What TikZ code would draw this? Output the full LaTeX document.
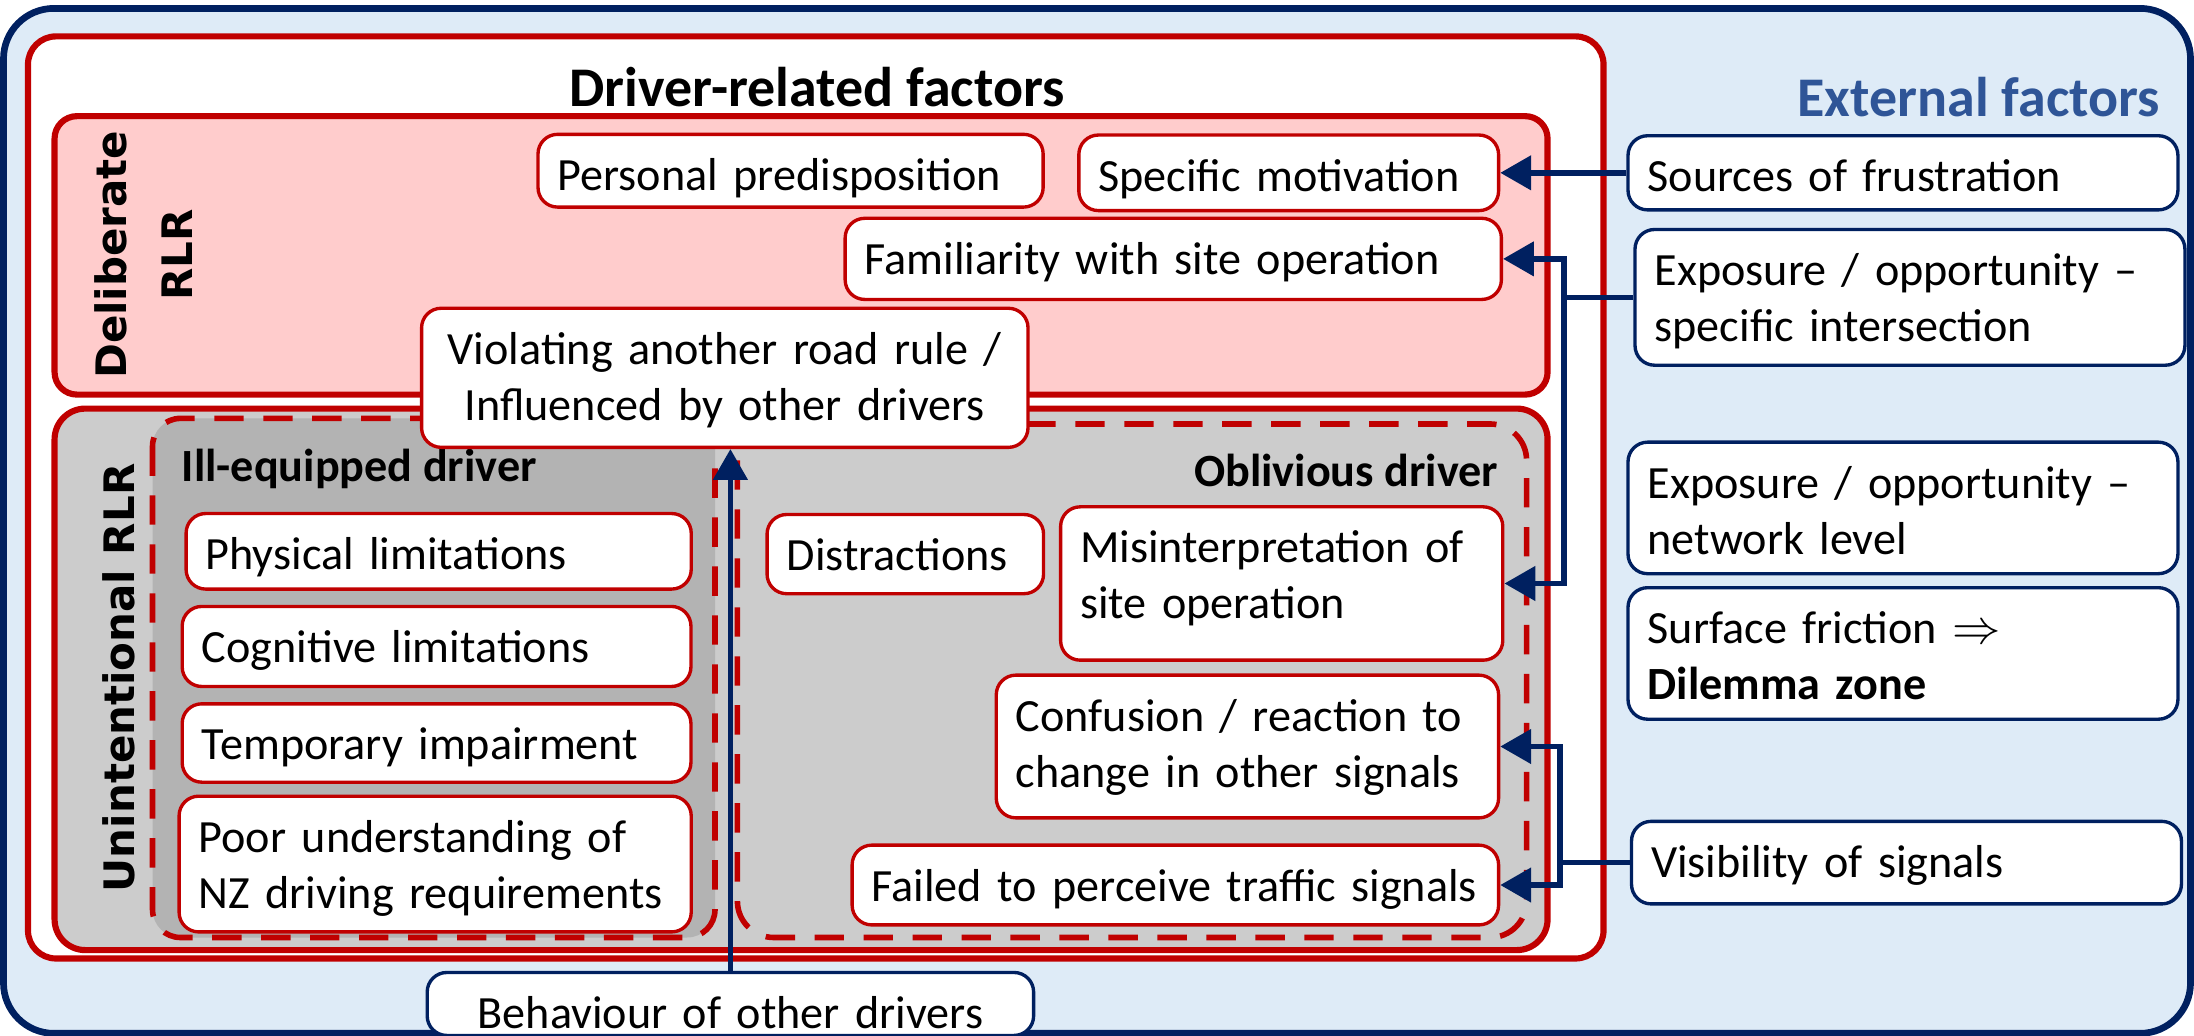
\documentclass[tikz,border=0pt]{standalone}
\usepackage{fontspec}
\setmainfont{Carlito}
\newfontfamily\rlrfont{DejaVu Sans}
\usetikzlibrary{arrows.meta}

\definecolor{rlrred}{HTML}{C00000}
\definecolor{navy}{HTML}{002060}
\definecolor{extfill}{HTML}{DEEBF7}
\definecolor{pinkfill}{HTML}{FFCCCC}
\definecolor{greyfill}{HTML}{CCCCCC}
\definecolor{darkgreyfill}{HTML}{B3B3B3}
\definecolor{extblue}{HTML}{2F5597}

\newcommand\itemsize{\fontsize{16.5}{20}\selectfont}
\newcommand\titlesize{\fontsize{20}{24}\selectfont}

\begin{document}
\begin{tikzpicture}[x=0.5pt, y=-0.5pt,
    factor/.style={draw=rlrred, line width=1.2pt, fill=white, rounded corners=7pt,
        inner xsep=7pt, inner ysep=0pt, text height=20pt, align=left, font=\itemsize},
    extfactor/.style={factor, draw=navy},
    link/.style={draw=navy, line width=2pt, -{Triangle[length=11pt,width=12pt]}},
    label/.style={inner sep=0pt}]
    \clip (0,0) rectangle (1568,740);

    % Draw the external factors area and the driver-related box
    \draw[navy, fill=extfill, line width=2.4pt, rounded corners=18pt] (2.5,6) rectangle (1565.5,738.5);
    \draw[rlrred, fill=white, line width=2.2pt, rounded corners=10pt] (20,26) rectangle (1146,685);

    % Draw the deliberate and unintentional boxes
    \draw[rlrred, fill=pinkfill, line width=2.2pt, rounded corners=8pt] (39,83) rectangle (1106,282);
    \draw[rlrred, fill=greyfill, line width=2.2pt, rounded corners=11pt] (39,292) rectangle (1106,679);
    \draw[rlrred, fill=darkgreyfill, line width=2pt, dash pattern=on 10.5pt off 7pt, rounded corners=10pt] (109,299) rectangle (511,670);
    \draw[rlrred, line width=2pt, dash pattern=on 10.5pt off 7pt, rounded corners=13pt] (527,303) rectangle (1091,670);

    % Titles
    \node[label, anchor=base, font=\titlesize\bfseries] (drvtitle) at (584,76) {Driver-related factors};
    \node[label, anchor=base east, font=\titlesize\bfseries, text=extblue] (exttitle) at (1544,83.5) {External factors};
    \node[label, anchor=base west, font=\itemsize\bfseries] (illtitle) at (129.5,344) {Ill-equipped driver};
    \node[label, anchor=base east, font=\itemsize\bfseries] (obltitle) at (1071,348) {Oblivious driver};
    \node[label, rotate=90, align=center, font=\rlrfont\bfseries\fontsize{15}{23.5}\selectfont] (delib) at (102.5,182) {Deliberate\\RLR};
    \node[label, rotate=90, anchor=base, font=\rlrfont\bfseries\fontsize{15}{18}\selectfont] (unint) at (96,484.5) {Unintentional RLR};

    % Driver-related factors
    \node[factor, text width=166.5pt, text depth=6pt] (pers) at (565,122) {Personal predisposition};
    \node[factor, text width=136pt, text depth=7pt] (spec) at (921,123.5) {Specific motivation};
    \node[factor, text width=220.5pt, text depth=9pt] (fam) at (838.5,185) {Familiarity with site operation};
    \node[factor, text width=202.7pt, text depth=29.7pt, align=center] (viol) at (518,270) {Violating another road rule /\\Influenced by other drivers};
    \node[factor, text width=166.5pt, text depth=7pt] (phys) at (313.5,394) {Physical limitations};
    \node[factor, text width=167.8pt, text depth=8.6pt] (cogn) at (312,462) {Cognitive limitations};
    \node[factor, text width=167.8pt, text depth=8pt] (temp) at (312,531) {Temporary impairment};
    \node[factor, text width=169pt, text depth=28.5pt] (poor) at (311,617.5) {Poor understanding of\\NZ driving requirements};
    \node[factor, text width=84.8pt, text depth=8.3pt] (dist) at (647,396) {Distractions};
    \node[factor, text width=144pt, text depth=34.8pt] (misi) at (916,417) {Misinterpretation of\\site operation};
    \node[factor, text width=165.5pt, text depth=31pt] (conf) at (891.5,533.5) {Confusion / reaction to\\change in other signals};
    \node[factor, text width=217pt, text depth=8.5pt] (fail) at (840,632.5) {Failed to perceive traffic signals};

    % External factors
    \node[extfactor, text width=182.5pt, text depth=6.5pt] (frus) at (1360,123.5) {Sources of frustration};
    \node[extfactor, text width=182.5pt, text depth=28.5pt] (expi) at (1365,212.5) {Exposure / opportunity –\\specific intersection};
    \node[extfactor, text width=182.5pt, text depth=27pt] (expn) at (1360,363) {Exposure / opportunity –\\network level};
    \node[extfactor, text width=182.5pt, text depth=27pt] (surf) at (1360,467) {Surface friction $\Rightarrow$\\\textbf{Dilemma zone}};
    \node[extfactor, text width=182.5pt, text depth=9.5pt] (visi) at (1362.5,616.5) {Visibility of signals};
    \node[extfactor, text width=202.7pt, text depth=2.5pt, align=center] (behav) at (522,717.5) {Behaviour of other drivers};

    % Draw the links
    \draw[link] (frus.west) -- (spec.east);
    \coordinate (siteA) at ([xshift=-24.75pt]expi.west);
    \draw[link] (expi.west) -- (siteA) |- (fam.east);
    \draw[link] (siteA) |- (misi.east);
    \coordinate (sigB) at ([xshift=-25pt]visi.west);
    \draw[link] (visi.west) -- (sigB) |- (conf.east);
    \draw[link] (sigB) |- (fail.east);
    \draw[link] (behav.north) -- (behav.north |- viol.south);
\end{tikzpicture}
\end{document}
